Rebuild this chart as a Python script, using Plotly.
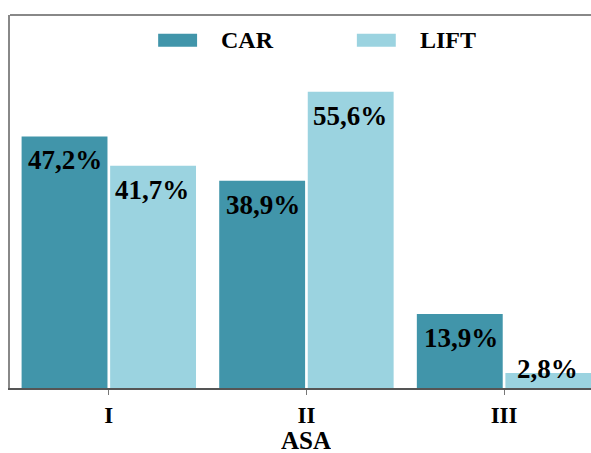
import plotly.graph_objects as go

# ASA class distribution for the two groups
categories = ["I", "II", "III"]
car_values = [47.2, 38.9, 13.9]
lift_values = [41.7, 55.6, 2.8]
series_names = ["CAR", "LIFT"]
colors = ["#4195AA", "#9BD3E0"]
x_title = "ASA"

FONT = "Liberation Serif, Times New Roman, serif"

fig = go.Figure()
for name, vals, col in zip(series_names, [car_values, lift_values], colors):
    fig.add_trace(go.Bar(
        x=categories, y=vals, name=name,
        marker=dict(color=col, line=dict(width=0)),
        showlegend=False,
    ))

# value labels placed just under each bar top; short bars get the label above the axis
offsets = [-0.22, 0.22]
for k, vals in enumerate([car_values, lift_values]):
    for i, v in enumerate(vals):
        label = f"{v:.1f}%".replace(".", ",")
        if v > 8:
            ann = dict(y=v, yanchor="top", yshift=-7)
        else:
            ann = dict(y=0, yanchor="bottom", yshift=2)
        fig.add_annotation(
            x=i + offsets[k], xref="x", yref="y", text=f"<b>{label}</b>",
            showarrow=False, xanchor="center",
            font=dict(family=FONT, size=27, color="black"), **ann,
        )

# legend drawn as wide swatches with labels
legend_x = [0.255, 0.597]
for name, col, lx in zip(series_names, colors, legend_x):
    fig.add_shape(type="rect", xref="paper", yref="paper",
                  x0=lx, x1=lx + 0.067, y0=0.915, y1=0.95,
                  fillcolor=col, line=dict(width=0))
    fig.add_annotation(x=lx + 0.105, y=0.933, xref="paper", yref="paper",
                       text=f"<b>{name}</b>", showarrow=False,
                       xanchor="left", yanchor="middle",
                       font=dict(family=FONT, size=24, color="black"))

# axis title centred under the middle category
fig.add_annotation(x=1, xref="x", y=0, yref="paper", yanchor="middle", yshift=-52,
                   height=22, text=f"<b>{x_title}</b>", showarrow=False,
                   xanchor="center", font=dict(family=FONT, size=25, color="black"))

# top border line
fig.add_shape(type="line", xref="paper", yref="paper", x0=0, x1=1, y0=1, y1=1,
              line=dict(color="#888888", width=2))

fig.update_layout(
    width=591, height=453,
    margin=dict(l=10, r=0, t=15, b=65),
    paper_bgcolor="white", plot_bgcolor="white",
    barmode="group", bargap=0.104, bargroupgap=0.03,
    xaxis=dict(
        range=[-0.5, 2.44], showline=True, linecolor="#555555", linewidth=2,
        ticks="outside", ticklen=5, tickcolor="#777777", tickwidth=1,
        tickfont=dict(family=FONT, size=23, color="black"),
        showgrid=False, zeroline=False,
    ),
    yaxis=dict(
        range=[0, 70], showline=True, linecolor="#888888", linewidth=2,
        showticklabels=False, ticks="", showgrid=False, zeroline=False,
    ),
)

fig.update_xaxes(tickprefix="<b>", ticksuffix="</b>")

fig.write_html("out.html")
